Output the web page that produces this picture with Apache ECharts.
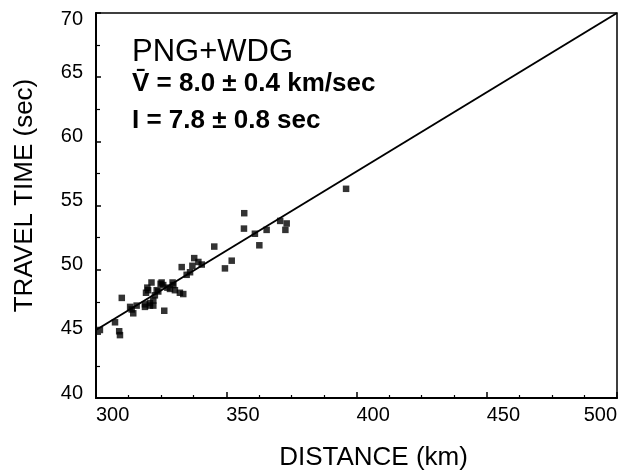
<!DOCTYPE html>
<html>
<head>
<meta charset="utf-8">
<script src="https://cdn.jsdelivr.net/npm/echarts@6/dist/echarts.min.js"></script>
<style>html,body{margin:0;padding:0;background:#fff;}#c{width:625px;height:476px;}</style>
</head>
<body>
<div id="c"></div>
<script>
// Observed data: distance (km), travel time (sec)
var distance = [301.5,307.3,308.9,309.2,309.9,313.1,313.7,314.3,315.6,318.8,318.8,319.2,319.7,320.0,320.7,320.7,321.3,322.0,322.0,322.6,323.3,323.9,324.8,325.2,325.8,326.2,327.4,328.4,329.4,329.7,330.3,332.2,333.5,332.9,334.8,336.1,337.0,337.7,339.3,340.6,345.4,349.5,352.1,356.9,356.8,361.0,362.7,365.5,370.7,373.2,372.7,396.0];
var travelTime = [45.3,45.9,45.2,44.9,47.8,47.1,46.9,46.6,47.2,47.1,47.3,48.2,48.6,48.4,47.2,47.4,49.0,47.2,47.6,48.0,48.4,48.3,48.9,49.0,48.8,46.8,48.6,48.5,49.0,48.8,48.4,48.2,48.1,50.2,49.6,49.8,50.3,50.9,50.6,50.4,51.8,50.1,50.7,54.4,53.2,52.8,51.9,53.1,53.8,53.6,53.1,56.3];
// Fit line endpoints
var fitDistance = [300, 500];
var fitTime = [45.3, 70.0];
// Axis ticks
var xTicks = [300, 350, 400, 450, 500];
var yTicks = [40, 45, 50, 55, 60, 65, 70];

var pts = distance.map(function (d, i) { return [d, travelTime[i]]; });
var fit = fitDistance.map(function (d, i) { return [d, fitTime[i]]; });
var FONT = 'Liberation Sans, Arial, sans-serif';

var chart = echarts.init(document.getElementById('c'));
chart.setOption({
  animation: false,
  backgroundColor: '#fff',
  grid: { left: 96, right: 8, top: 13, bottom: 74, show: true, borderColor: '#000', borderWidth: 1.5, backgroundColor: 'transparent' },
  xAxis: {
    type: 'value', min: xTicks[0], max: xTicks[xTicks.length - 1], interval: 50,
    axisLine: { lineStyle: { color: '#000', width: 2 } },
    axisTick: { inside: true, length: 6, lineStyle: { color: '#000', width: 1.5 } },
    minorTick: { show: true, splitNumber: 4, length: 3, lineStyle: { color: '#000', width: 1.2 } },
    splitLine: { show: false },
    axisLabel: { color: '#000', fontSize: 20, fontFamily: FONT, align: 'left', alignMaxLabel: 'right', margin: 7 },
    name: 'DISTANCE (km)', nameLocation: 'middle', nameGap: 47,
    nameTextStyle: { color: '#000', fontSize: 26, fontFamily: FONT, padding: [0, 0, 0, 34], verticalAlign: 'top' }
  },
  yAxis: {
    type: 'value', min: yTicks[0], max: yTicks[yTicks.length - 1], interval: 5,
    axisLine: { lineStyle: { color: '#000', width: 2 } },
    axisTick: { inside: true, length: 5, lineStyle: { color: '#000', width: 1.5 } },
    minorTick: { show: true, splitNumber: 2, length: 4, lineStyle: { color: '#000', width: 1.2 } },
    splitLine: { show: false },
    axisLabel: {
      color: '#000', fontSize: 20, fontFamily: FONT, margin: 13,
      formatter: function (v) { return v === 70 ? '{t|' + v + '}' : '{n|' + v + '}'; },
      rich: {
        n: { fontSize: 20, fontFamily: FONT, color: '#000', padding: [0, 0, 10, 0] },
        t: { fontSize: 20, fontFamily: FONT, color: '#000', padding: [12, 0, 0, 0] }
      }
    },
    name: 'TRAVEL TIME (sec)', nameLocation: 'middle', nameGap: 58, nameRotate: 90,
    nameTextStyle: { color: '#000', fontSize: 26, fontFamily: FONT, padding: [0, 0, 0, 20] }
  },
  graphic: [
    { type: 'text', left: 132, top: 37, style: { text: 'PNG+WDG', font: '31px ' + FONT, fill: '#000' } },
    { type: 'text', left: 132, top: 71, style: { text: 'V\u0304 = 8.0 \u00b1 0.4 km/sec', font: 'bold 26px ' + FONT, fill: '#000' } },
    { type: 'text', left: 132, top: 108, style: { text: 'I = 7.8 \u00b1 0.8 sec', font: 'bold 26px ' + FONT, fill: '#000' } }
  ],
  series: [
    { type: 'line', data: fit, symbol: 'none', lineStyle: { color: '#000', width: 2 }, z: 2 },
    { type: 'scatter', data: pts, symbol: 'rect', symbolSize: 6.5, itemStyle: { color: '#000' }, z: 3 }
  ]
});
</script>
</body>
</html>
